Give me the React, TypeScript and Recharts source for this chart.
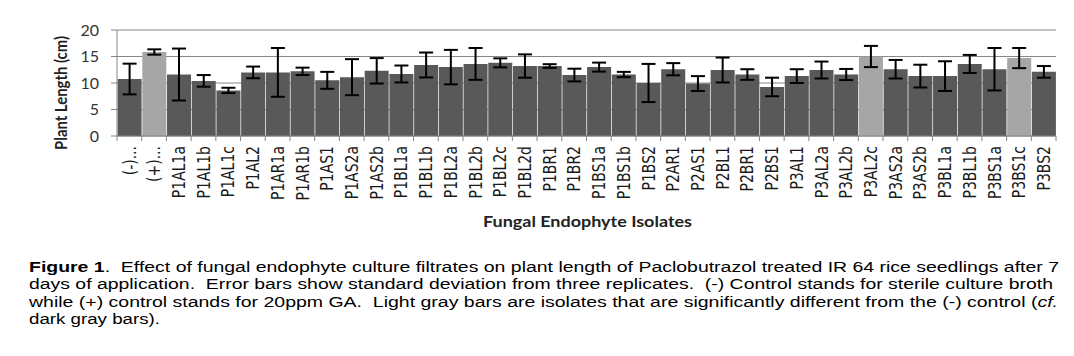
import { Bar, BarChart, CartesianGrid, Cell, ErrorBar, Label, XAxis, YAxis } from "recharts"

// isolates in the order they appear on the x axis
const isolates = [
  "(-)...", "(+)...", "P1AL1a", "P1AL1b", "P1AL1c", "P1AL2", "P1AR1a", "P1AR1b", "P1AS1", "P1AS2a",
  "P1AS2b", "P1BL1a", "P1BL1b", "P1BL2a", "P1BL2b", "P1BL2c", "P1BL2d", "P1BR1", "P1BR2", "P1BS1a",
  "P1BS1b", "P1BS2", "P2AR1", "P2AS1", "P2BL1", "P2BR1", "P2BS1", "P3AL1", "P3AL2a", "P3AL2b",
  "P3AL2c", "P3AS2a", "P3AS2b", "P3BL1a", "P3BL1b", "P3BS1a", "P3BS1c", "P3BS2",
]
const plantLength = [
  10.75, 15.85, 11.6, 10.4, 8.6, 12.0, 12.0, 12.2, 10.5, 11.1,
  12.3, 11.7, 13.4, 13.0, 13.6, 13.8, 13.2, 13.2, 11.5, 13.0,
  11.6, 10.0, 12.6, 9.9, 12.45, 11.6, 9.25, 11.3, 12.45, 11.6,
  15.0, 12.6, 11.3, 11.3, 13.6, 12.6, 14.7, 12.1,
]
const stdDev = [
  2.9, 0.5, 4.9, 1.1, 0.5, 1.1, 4.6, 0.7, 1.6, 3.4,
  2.4, 1.6, 2.35, 3.25, 3.0, 0.85, 2.2, 0.35, 1.2, 0.85,
  0.5, 3.6, 1.15, 1.4, 2.35, 1.0, 1.75, 1.3, 1.6, 1.05,
  2.0, 1.75, 2.15, 2.8, 1.7, 4.0, 1.9, 1.1,
]
// light gray = significantly different from (-) control
const significant = ["(+)...", "P3AL2c", "P3BS1c"]
const yTicks = [0, 5, 10, 15, 20]

const captionLines = [
  "Effect of fungal endophyte culture filtrates on plant length of Paclobutrazol treated IR 64 rice seedlings after 7",
  "days of application.  Error bars show standard deviation from three replicates.  (-) Control stands for sterile culture broth",
  "while (+) control stands for 20ppm GA.  Light gray bars are isolates that are significantly different from the (-) control (",
  "dark gray bars).",
]

const chartData = isolates.map((name, i) => ({ name, length: plantLength[i], sd: stdDev[i] }))

const DARK = "#595959"
const LIGHT = "#a6a6a6"
const GRID = "#868686"
// the original figure is stretched sideways a bit, so rotated text looks thicker
const STRETCH = 1.28

function IsolateTick({ x, y, payload, index }: any) {
  const half = payload?.offset ?? 12.35
  return (
    <g>
      <line x1={x - half} y1={y} x2={x - half} y2={y + 5} stroke={GRID} />
      {index === isolates.length - 1 && <line x1={x + half} y1={y} x2={x + half} y2={y + 5} stroke={GRID} />}
      <g transform={`translate(${x} ${y + 10}) scale(${STRETCH} 1) rotate(-90)`}>
        <text x={0} y={0} textAnchor="end" dy="0.35em" fontFamily="DejaVu Sans" fontSize={14} fill="#1a1a1a">
          {payload.value}
        </text>
      </g>
    </g>
  )
}

export default function App() {
  return (
    <div style={{ position: "relative", width: 1074, height: 356, background: "#fff" }}>
      <style>{"body{margin:0}"}</style>
      <BarChart
        width={1074}
        height={356}
        data={chartData}
        margin={{ top: 30, right: 18, bottom: 120, left: 0 }}
        barCategoryGap={0.6}
      >
        <CartesianGrid vertical={false} stroke={GRID} />
        <XAxis
          dataKey="name"
          interval={0}
          height={100}
          tickSize={0}
          tickMargin={0}
          tick={<IsolateTick />}
          axisLine={{ stroke: GRID }}
        >
          <Label
            content={({ viewBox }: any) => (
              <text
                x={viewBox.x + viewBox.width / 2 + 1}
                y={viewBox.y + 91}
                textAnchor="middle"
                fontFamily="Lato"
                fontWeight="bold"
                fontSize={15}
                fill="#222"
                textLength={209}
                lengthAdjust="spacingAndGlyphs"
              >
                Fungal Endophyte Isolates
              </text>
            )}
          />
        </XAxis>
        <YAxis
          width={117}
          domain={[0, 20]}
          ticks={yTicks}
          interval={0}
          tickSize={6}
          tickMargin={12}
          tick={{ fontFamily: "Lato", fontSize: 16, fill: "#333" }}
          axisLine={{ stroke: GRID }}
          tickLine={{ stroke: GRID }}
        >
          <Label
            content={() => (
              <g transform={`translate(67 93) scale(${STRETCH} 1) rotate(-90)`}>
                <text
                  x={0}
                  y={0}
                  textAnchor="middle"
                  fontFamily="Lato"
                  fontWeight="bold"
                  fontSize={14}
                  fill="#222"
                  textLength={114}
                  lengthAdjust="spacingAndGlyphs"
                >
                  Plant Length (cm)
                </text>
              </g>
            )}
          />
        </YAxis>
        <Bar dataKey="length" isAnimationActive={false}>
          {chartData.map((d) => (
            <Cell key={d.name} fill={significant.includes(d.name) ? LIGHT : DARK} />
          ))}
          <ErrorBar dataKey="sd" width={7} stroke="#000" strokeWidth={2} isAnimationActive={false} />
        </Bar>
      </BarChart>
      <svg width={1074} height={356} style={{ position: "absolute", left: 0, top: 0, pointerEvents: "none" }}>
        <g fontFamily="Liberation Sans, Arial, sans-serif" fontSize={14} fill="#000">
          <text x={29} y={271.5} textLength={1030} lengthAdjust="spacingAndGlyphs" xmlSpace="preserve" style={{ whiteSpace: "pre" }}>
            <tspan fontWeight="bold">Figure 1</tspan>{".  " + captionLines[0]}
          </text>
          <text x={29} y={289} textLength={1024} lengthAdjust="spacingAndGlyphs" xmlSpace="preserve" style={{ whiteSpace: "pre" }}>
            {captionLines[1]}
          </text>
          <text x={29} y={306.5} textLength={1029} lengthAdjust="spacingAndGlyphs" xmlSpace="preserve" style={{ whiteSpace: "pre" }}>
            {captionLines[2]}
            <tspan fontStyle="italic">cf.</tspan>
          </text>
          <text x={29} y={324} textLength={131} lengthAdjust="spacingAndGlyphs" xmlSpace="preserve" style={{ whiteSpace: "pre" }}>
            {captionLines[3]}
          </text>
        </g>
      </svg>
    </div>
  )
}
